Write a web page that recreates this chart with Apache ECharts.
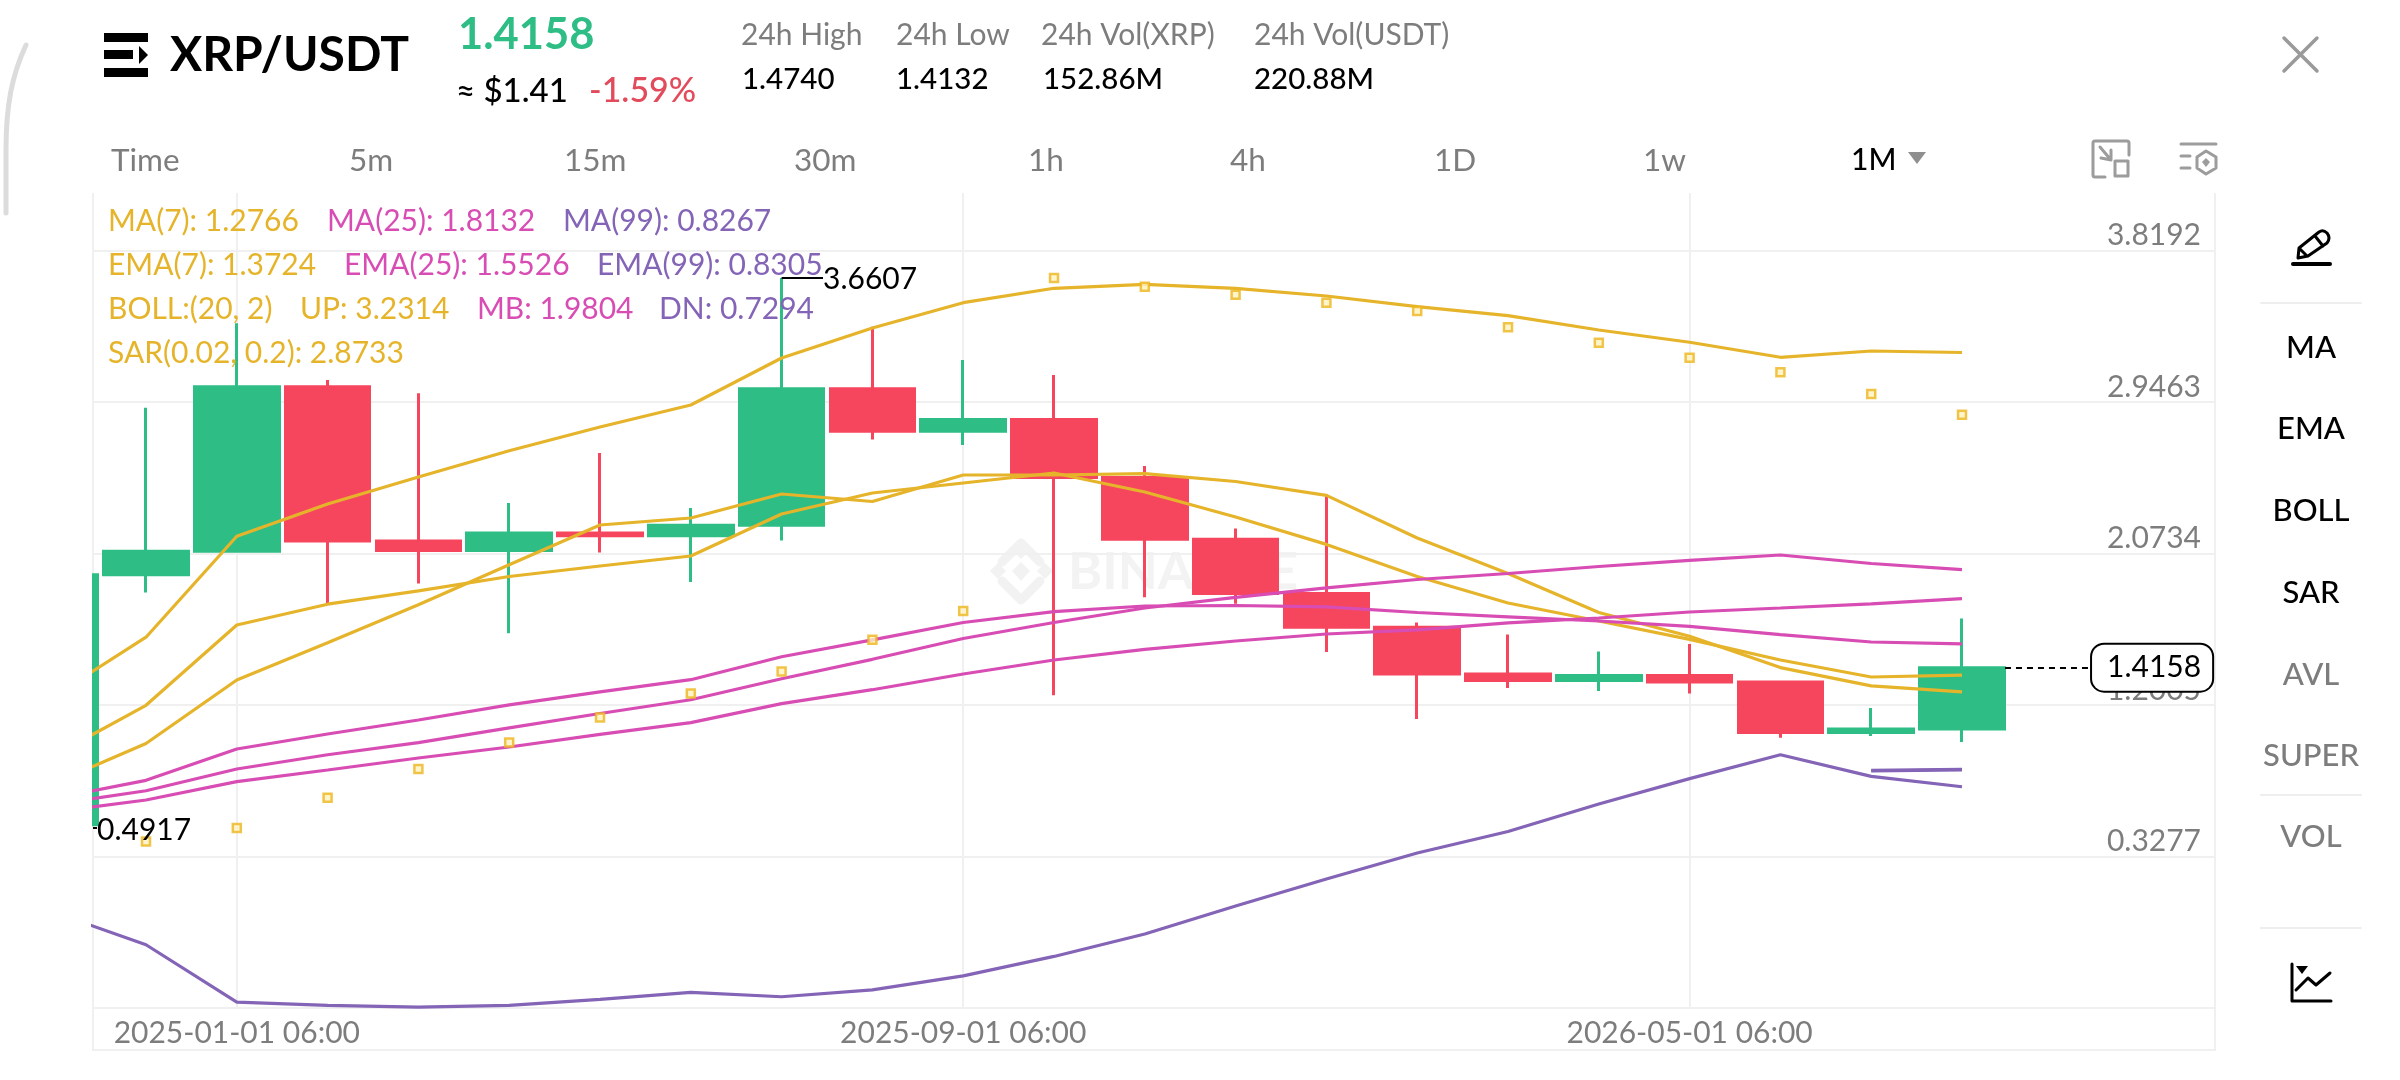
<!DOCTYPE html>
<html><head><meta charset="utf-8"><title>XRP/USDT</title>
<style>html,body{margin:0;padding:0;background:#fff}#c{width:2400px;height:1080px}</style>
<script src="https://cdn.jsdelivr.net/npm/echarts@6/dist/echarts.min.js"></script></head>
<body><div id="c"></div>
<script>
const indexes=[-1,0,1,2,3,4,5,6,7,8,9,10,11,12,13,14,15,16,17,18,19,20];
const open=[0.51,1.9507,2.0861,3.0345,2.1455,2.0907,2.1916,2.176,2.2359,3.0224,2.7781,2.8456,2.5108,2.1558,1.8435,1.6488,1.3791,1.3411,1.3711,1.3336,1.0415,1.0622];
const close=[1.9507,2.0861,3.0345,2.1455,2.0907,2.1916,2.176,2.2359,3.0224,2.7781,2.8456,2.5108,2.1558,1.8435,1.6488,1.3791,1.3411,1.3711,1.3336,1.0415,1.0622,1.4158];
const low=[0.4917,1.8487,2.0861,1.7836,1.9012,1.6136,2.0786,1.9092,2.1483,2.7303,2.6986,1.2564,1.8211,1.7836,1.5059,1.1198,1.2985,1.2812,1.2662,1.0115,1.0219,0.9873];
const high=[1.9507,2.913,3.3999,3.0732,2.9965,2.3644,2.6525,2.3356,3.6607,3.3803,3.1884,3.102,2.5776,2.2181,2.4134,1.6759,1.6061,1.5088,1.552,1.3388,1.1832,1.6983];
const bollUp=[1.2575,1.5912,2.1731,2.3587,2.5142,2.6658,2.8023,2.9291,3.1999,3.3728,3.5186,3.6015,3.6246,3.6015,3.5572,3.4955,3.4436,3.3613,3.2904,3.2039,3.2402,3.2314];
const ema7=[0.9124,1.1988,1.6615,1.7813,1.8585,1.9409,2.0014,2.059,2.301,2.422,2.4797,2.5373,2.4278,2.2838,2.1259,1.9409,1.7882,1.6845,1.5785,1.4598,1.3618,1.3724];
const ma7=[0.7528,0.9787,1.3445,1.5589,1.7784,2.0083,2.2377,2.278,2.4163,2.3731,2.5258,2.5258,2.5333,2.4883,2.4082,2.1628,1.9582,1.7335,1.5963,1.416,1.3111,1.2766];
const ema25=[0.6641,0.7666,0.947,1.0334,1.1141,1.2011,1.2766,1.3463,1.4788,1.5762,1.6759,1.7387,1.7709,1.7738,1.7658,1.7335,1.7087,1.6845,1.6534,1.6061,1.5635,1.5526];
const bollMb=[0.6295,0.7067,0.8317,0.9141,0.9838,1.0691,1.1515,1.231,1.3515,1.4638,1.5837,1.6759,1.7594,1.8211,1.8758,1.9236,1.9582,1.9985,2.0337,2.0648,2.0158,1.9804];
const ma25=[0.5863,0.6531,0.7591,0.826,0.8951,0.9585,1.0317,1.0991,1.2086,1.2887,1.3791,1.4598,1.5214,1.5693,1.6096,1.6338,1.6736,1.7018,1.7364,1.7594,1.7836,1.8132];
const bollDn=[0.0037,-0.1807,-0.5108,-0.5304,-0.5396,-0.5304,-0.4953,-0.4555,-0.4803,-0.4405,-0.3604,-0.2481,-0.119,0.0423,0.1979,0.3477,0.4716,0.6301,0.7764,0.9141,0.7891,0.7294];
const ma99=[null,null,null,null,null,null,null,null,null,null,null,null,null,null,null,null,null,null,null,null,0.8202,0.8267];
const ema99=[null,null,null,null,null,null,null,null,null,null,null,null,null,null,null,null,null,null,null,null,0.8235,0.8305];
const sar=[null,0.414,0.4918,0.6664,0.8317,0.9838,1.1291,1.2662,1.3935,1.5762,1.7421,3.6609,3.6108,3.5647,3.5186,3.4707,3.3768,3.2881,3.2017,3.1175,2.9925,2.8733];
const yTicks=[0.3277,1.2005,2.0734,2.9463,3.8192];
const yGrid=[-0.5452,0.3277,1.2005,2.0734,2.9463,3.8192];
const xDates={1:'2025-01-01 06:00',9:'2025-09-01 06:00',17:'2026-05-01 06:00'};
const xMin=-0.5837,xMax=22.786,yMin=-0.5452,yMax=4.1505;
const lastPrice=1.4158,maxPrice=3.6607,minPrice=0.4917;
const tabs=[['Time',111],['5m',349],['15m',564],['30m',794],['1h',1028],['4h',1230],['1D',1434],['1w',1643]];

const FONT='Lato';
const UP='#2EBD85',DOWN='#F6465D',YEL='#E6B42A',PINK='#D84DB4',PUR='#8464B6',GRAY='#7d7d7d',GRID='#f0f0f0';
function T(text,x,y,size,fill,o){o=o||{};return {type:'text',x:x,y:y,z:o.z===undefined?5:o.z,silent:true,style:{text:text,fill:fill,fontSize:size,fontFamily:FONT,fontWeight:o.w||400,textAlign:o.a||'left',textVerticalAlign:'middle',align:o.a||'left',verticalAlign:'middle'}};}
function L(x1,y1,x2,y2,c,w){return {type:'line',silent:true,z:1,shape:{x1,y1,x2,y2},style:{stroke:c,lineWidth:w,lineCap:'round'}};}
function R(x,y,w,h,c,r,z){return {type:'rect',silent:true,z:z||5,shape:{x,y,width:w,height:h,r:r||0},style:{fill:c}};}
let pid=0;
function P(d,o){const name='svgp'+(pid++);echarts.graphic.registerShape(name,echarts.graphic.extendPath(d,{}));return {type:name,silent:true,z:o.z===undefined?5:o.z,style:{fill:o.fill||'none',stroke:o.stroke||'none',lineWidth:o.w||0,lineCap:'round',lineJoin:'round'}};}

const g=[];
// the candle cut off by the chart's left edge is hidden outside the plot
g.push(R(0,400,92,500,'#fff',0,10));
// page edge curve
g.push(P('M26 45 C12 75 6 105 6 150 L6 213',{stroke:'#dcdcdc',w:5}));
// brand
g.push(R(104,33,44,9,'#000'),R(104,50,29,9,'#000'),R(104,68,44,9,'#000'));
g.push(P('M139 46 L148 55 L139 64 Z',{fill:'#000'}));
g.push(T('XRP/USDT',170,56,48,'#000',{w:700}));
g.push(T('1.4158',458,35,43.5,UP,{w:700}));
g.push(T('≈ $1.41',456,91,33,'#000',{w:500}));
g.push(T('-1.59%',589,91,34,'#E24B5C',{w:500}));
[['24h High',741],['24h Low',896],['24h Vol(XRP)',1041],['24h Vol(USDT)',1254]].forEach(a=>g.push(T(a[0],a[1],35,30,GRAY)));
[['1.4740',742],['1.4132',896],['152.86M',1043],['220.88M',1254]].forEach(a=>g.push(T(a[0],a[1],79.5,29.5,'#000',{w:500})));
g.push(P('M2284 38 L2317 71 M2317 38 L2284 71',{stroke:'#9a9a9a',w:3.5}));
// tabs
tabs.forEach(a=>g.push(T(a[0],a[1],161,31.5,GRAY)));
g.push(T('1M',1851,160,30,'#000',{w:500}));
g.push(P('M1908 152 L1926 152 L1917 164 Z',{fill:'#8f8f8f'}));
g.push(P('M2105 177 L2095 177 Q2093 177 2093 175 L2093 143 Q2093 141 2095 141 L2127 141 Q2129 141 2129 143 L2129 155 M2100 147 L2111 160 M2101 158 L2111 160 L2111 150',{stroke:'#9c9c9c',w:3}));
g.push(P('M2115 161 L2128 161 L2128 176 L2115 176 Z',{stroke:'#9c9c9c',w:3}));
g.push(P('M2181 144 L2216 144 M2181 156 L2190 156 M2181 168 L2190 168 M2206 151 L2216 157 L2216 168 L2206 174 L2197 168 L2197 157 Z',{stroke:'#9c9c9c',w:3}));
g.push(P('M2206 158 L2210 162 L2206 167 L2202 162 Z',{fill:'#9c9c9c'}));
// sidebar
g.push(P('M2298 258 L2299 248 L2319 232 Q2323 229 2327 233 Q2331 238 2327 243 L2308 256 Z M2299 248 L2307 256 M2315 236 L2323 246',{stroke:'#000',w:3}));
g.push(L(2293,264,2330,264,'#000',4));
[['MA',347.5,'#000'],['EMA',429,'#000'],['BOLL',511,'#000'],['SAR',593,'#000'],['AVL',675,GRAY],['SUPER',756,GRAY],['VOL',837,GRAY]].forEach(a=>g.push(T(a[0],2311,a[1],31,a[2],{a:'center',w:500})));
[303,795,928].forEach(y=>g.push(L(2261,y,2361,y,'#eeeeee',2)));
g.push(P('M2292 964 L2292 1001 L2331 1001 M2296 990 L2308 978 L2316 985 L2330 973',{stroke:'#000',w:3}));
g.push(P('M2296 966 L2308 966 L2302 974 Z',{fill:'#000'}));
// axis band borders
g.push(L(93,1008,93,1050,GRID,2),L(2215,1008,2215,1050,GRID,2),L(93,1050,2215,1050,GRID,2));
// watermark
['M1021 539 L1031 549 L1021 559 L1011 549 Z','M1002 562 L1021 543 M1040 562 L1021 543','M1021 562 L1030 571 L1021 581 L1012 571 Z','M990 571 L998 563 L1006 571 L998 579 Z','M1053 571 L1045 563 L1037 571 L1045 579 Z','M1002 581 L1021 600 L1040 581'].forEach((d,i)=>g.push(i==1||i==5?P(d,{stroke:'#f2f2f2',w:9,z:0}):P(d,{fill:'#f2f2f2',z:0})));
g.push(T('BINANCE',1068,572,52,'#f3f3f3',{w:700,z:0}));
// legend
[[['MA(7): 1.2766',108,YEL],['MA(25): 1.8132',327,PINK],['MA(99): 0.8267',563,PUR]],
 [['EMA(7): 1.3724',108,YEL],['EMA(25): 1.5526',344,PINK],['EMA(99): 0.8305',597,PUR]],
 [['BOLL:(20, 2)',108,YEL],['UP: 3.2314',300,YEL],['MB: 1.9804',477,PINK],['DN: 0.7294',659,PUR]],
 [['SAR(0.02, 0.2): 2.8733',108,YEL]]].forEach((row,i)=>row.forEach(a=>g.push(T(a[0],a[1],221.5+44*i,30,a[2],{z:20}))));

const pairs=a=>a.map((v,i)=>[indexes[i],v]);
const line=(name,data,color)=>({type:'line',name,data:pairs(data),showSymbol:false,symbol:'none',silent:true,z:4,connectNulls:false,lineStyle:{color,width:3.2},animation:false});
const lblBase={fontFamily:FONT,fontSize:30,color:'#000',distance:2};
const chart=echarts.init(document.getElementById('c'),null,{renderer:'canvas'});
chart.setOption({
  animation:false,backgroundColor:'#fff',
  grid:{left:93,top:193,width:2122,height:815,containLabel:false},
  xAxis:{type:'value',min:xMin,max:xMax,
    axisLine:{show:false},
    axisTick:{show:false,customValues:[xMin,1,9,17,xMax]},
    splitLine:{show:true,lineStyle:{color:GRID,width:2}},
    axisLabel:{customValues:[1,9,17],formatter:v=>xDates[v]||'',fontFamily:FONT,fontSize:30,color:GRAY,margin:10,hideOverlap:false}},
  yAxis:{type:'value',position:'right',min:yMin,max:yMax,
    axisLine:{show:false},
    axisTick:{show:false,customValues:yGrid},
    splitLine:{show:true,lineStyle:{color:GRID,width:2}},
    axisLabel:{inside:true,customValues:yTicks,formatter:v=>v.toFixed(4),margin:14,verticalAlign:'bottom',fontFamily:FONT,fontSize:30,color:GRAY}},
  graphic:{elements:g},
  series:[
    {type:'candlestick',name:'XRP/USDT',barWidth:85,z:3,silent:true,
      data:indexes.map((k,i)=>[k,open[i],close[i],low[i],high[i]]),
      itemStyle:{color:UP,color0:DOWN,borderColor:UP,borderColor0:DOWN,borderWidth:3},
      markLine:{silent:true,symbol:'none',animation:false,precision:4,z:6,
        data:[
          [{coord:[7,maxPrice],lineStyle:{color:'#000',width:2,type:'solid'},label:{...lblBase,show:true,position:'end',distance:0,offset:[0,1],formatter:String(maxPrice)}},{coord:[7.456,maxPrice]}],
          [{coord:[xMin,minPrice],lineStyle:{color:'#000',width:2,type:'solid'},label:{...lblBase,show:true,position:'end',distance:0,offset:[0,2],formatter:String(minPrice)}},{coord:[-0.5396,minPrice]}],
          [{coord:[20.473,lastPrice],lineStyle:{color:'#000',width:2,type:[6,5]},label:{...lblBase,show:true,position:'end',formatter:lastPrice.toFixed(4),distance:0,backgroundColor:'#fff',borderColor:'#000',borderWidth:2,borderRadius:12,padding:[8,11,8,15]}},{coord:[21.432,lastPrice]}]
        ]}},
    line('BOLL UP',bollUp,YEL),line('EMA(7)',ema7,YEL),line('MA(7)',ma7,YEL),
    line('EMA(25)',ema25,PINK),line('BOLL MB',bollMb,PINK),line('MA(25)',ma25,PINK),
    line('BOLL DN',bollDn,PUR),line('MA(99)',ma99,PUR),line('EMA(99)',ema99,PUR),
    {type:'scatter',name:'SAR',data:pairs(sar),symbol:'rect',symbolSize:8,silent:true,z:5,itemStyle:{color:'#FFF3C0',borderColor:'#EDB51E',borderWidth:2.5}}
  ]
});
</script></body></html>
